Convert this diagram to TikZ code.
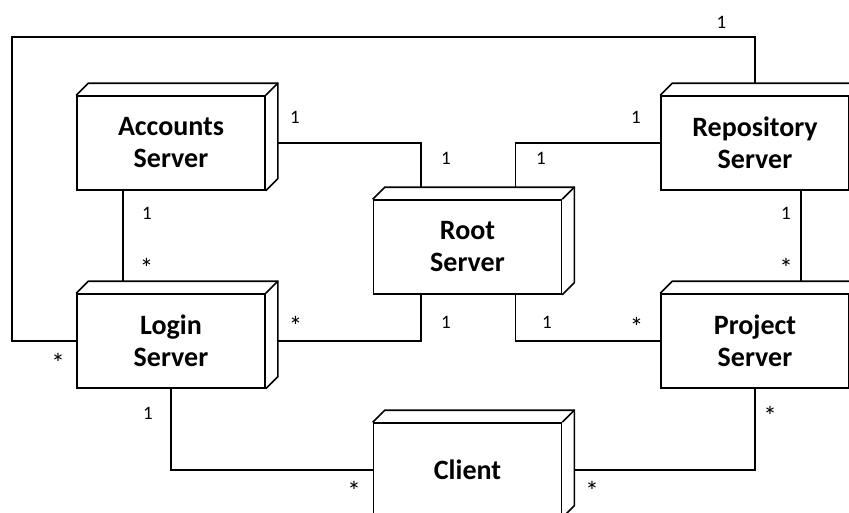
\documentclass[tikz,border=0pt]{standalone}
\usepackage{fontspec}
\setmainfont{Carlito}
\usetikzlibrary{calc}
\tikzset{
  srv/.style={draw, line width=1.6pt, minimum width=188pt, minimum height=94pt,
    align=center, inner sep=0pt, font=\fontsize{28}{32}\selectfont\bfseries},
  conn/.style={line width=1.6pt},
  lbl/.style={anchor=base, inner sep=0pt, font=\fontsize{19}{22}\selectfont},
  ast/.style={anchor=north, inner sep=0pt, font=\fontsize{27}{30}\selectfont}
}
\begin{document}
\begin{tikzpicture}[x=1pt,y=-1pt]
\useasboundingbox (0,0) rectangle (849,512);
\clip (0,0) rectangle (849,512);
\node[srv] (acc) at (171,143) {Accounts\\Server};
\node[srv] (root) at (467.5,247) {Root\\Server};
\node[srv] (login) at (171,341) {Login\\Server};
\node[srv] (repo) at (755,143) {Repository\\Server};
\node[srv] (proj) at (755,341) {Project\\Server};
\node[srv] (client) at (467.5,470) {Client};
\foreach \n in {acc,root,login,repo,proj,client}{
  \draw[line width=1.6pt, line join=miter]
    (\n.north west) -- ++(12,-12) -- ($(\n.north east)+(12,-12)$)
    -- ($(\n.south east)+(12,-12)$) -- (\n.south east);
  \draw[line width=1.6pt] (\n.north east) -- ++(12,-12);
}
% connectors
\coordinate (loopL) at (12,37);
\draw[conn] (login.west) -| (loopL) -| ($(repo.north)+(0,-12)$);
\draw[conn] ($(acc.east)+(12,0)$) -| ($(root.north west)+(48,-12)$);
\draw[conn] (repo.west) -| ($(root.north east)+(-47,-12)$);
\draw[conn] ($(acc.south west)+(47,0)$) -- ($(login.north west)+(47,-12)$);
\draw[conn] ($(repo.south west)+(141,0)$) -- ($(proj.north west)+(141,-12)$);
\draw[conn] ($(login.east)+(12,0)$) -| ($(root.south west)+(48,0)$);
\draw[conn] ($(root.south east)+(-47,0)$) |- (proj.west);
\draw[conn] (login.south) |- (client.west);
\draw[conn] (proj.south) |- ($(client.east)+(12,0)$);
% multiplicities
\node[lbl] (m1) at (721.5,28.5) {1};
\node[ast] (m2) at (58,353) {*};
\node[lbl] (m3) at (295,123) {1};
\node[lbl] (m4) at (446,164) {1};
\node[lbl] (m5) at (636,123) {1};
\node[lbl] (m6) at (541,164) {1};
\node[lbl] (m7) at (147,219) {1};
\node[ast] (m8) at (146.5,258) {*};
\node[lbl] (m9) at (786,219) {1};
\node[ast] (m10) at (786,258) {*};
\node[ast] (m11) at (295.5,316.5) {*};
\node[lbl] (m12) at (446,328) {1};
\node[lbl] (m13) at (547,328) {1};
\node[ast] (m14) at (636.5,317.5) {*};
\node[lbl] (m15) at (148,419) {1};
\node[ast] (m16) at (354,481.5) {*};
\node[ast] (m17) at (770,406) {*};
\node[ast] (m18) at (592,481.5) {*};
\end{tikzpicture}
\end{document}
